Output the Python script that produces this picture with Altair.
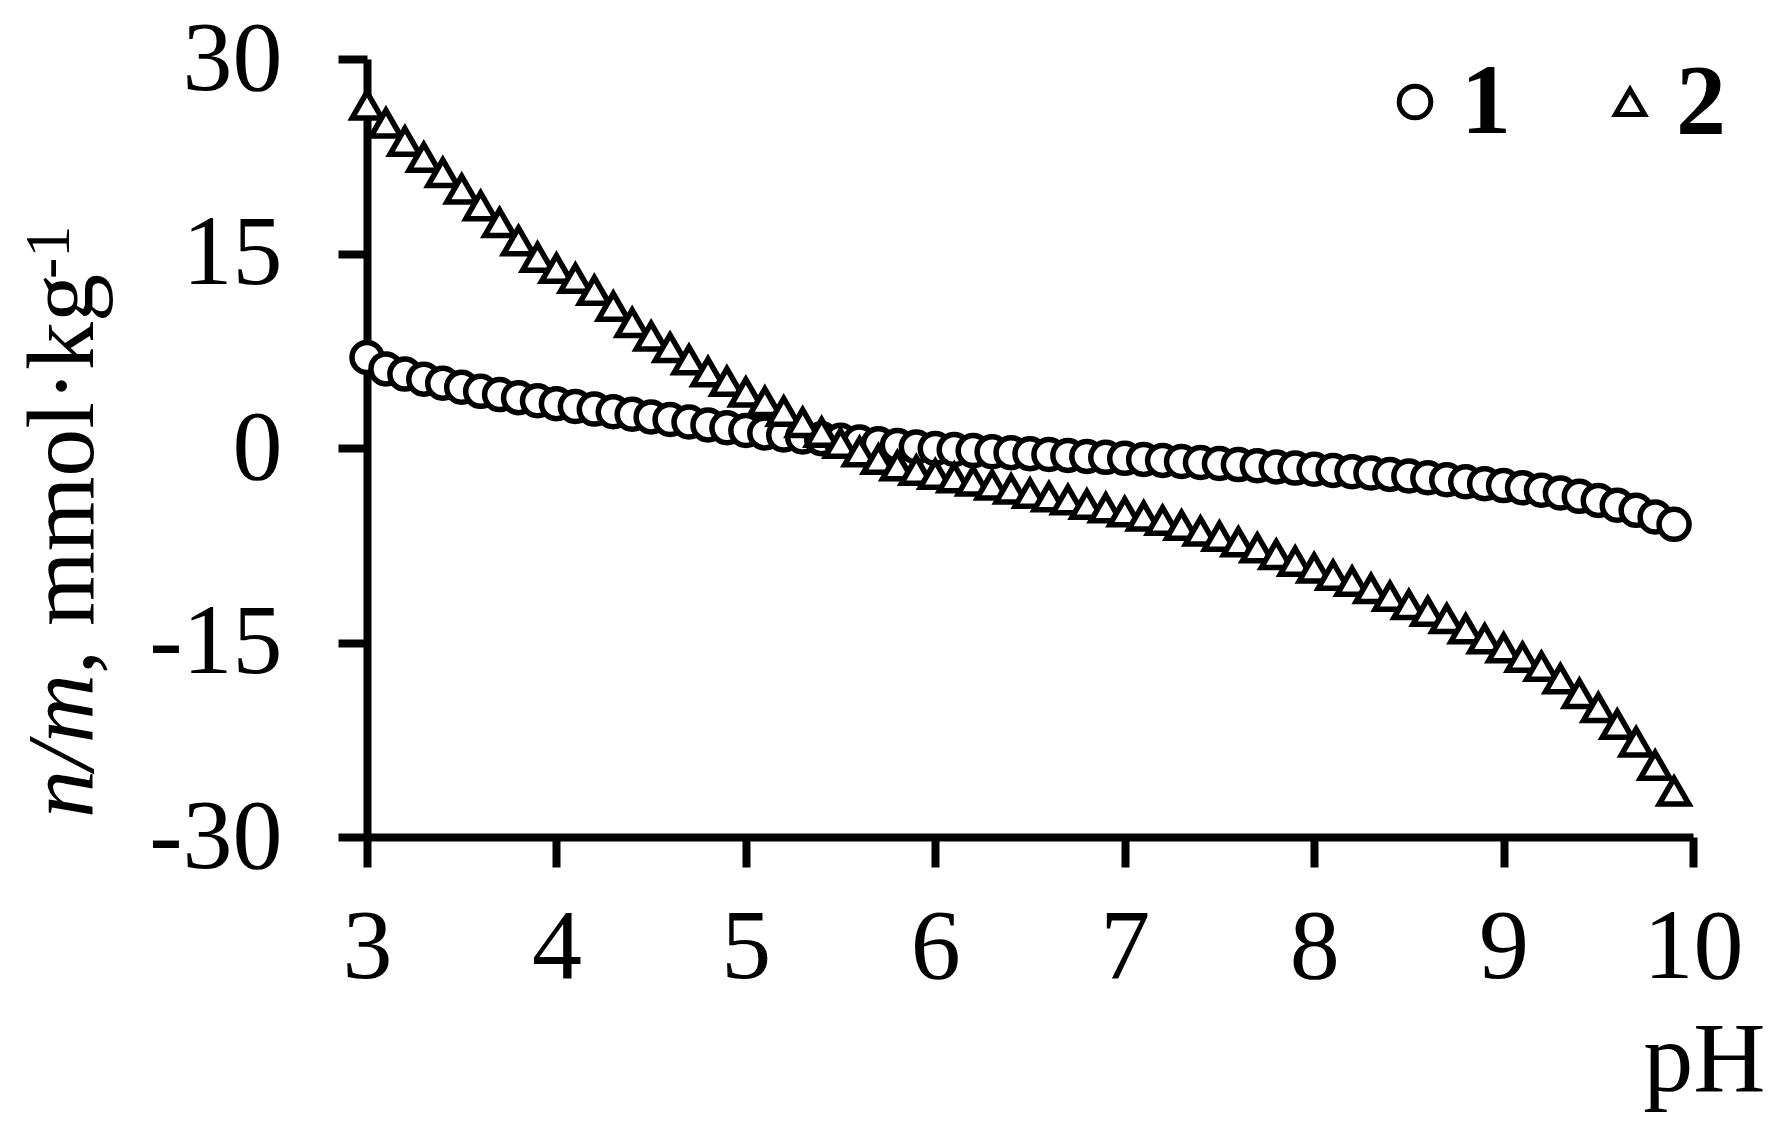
import altair as alt
import pandas as pd

# ---- data ----
PH = [3.0, 3.1, 3.2, 3.3, 3.4, 3.5, 3.6, 3.7, 3.8, 3.9,
      4.0, 4.1, 4.2, 4.3, 4.4, 4.5, 4.6, 4.7, 4.8, 4.9,
      5.0, 5.1, 5.2, 5.3, 5.4, 5.5, 5.6, 5.7, 5.8, 5.9,
      6.0, 6.1, 6.2, 6.3, 6.4, 6.5, 6.6, 6.7, 6.8, 6.9,
      7.0, 7.1, 7.2, 7.3, 7.4, 7.5, 7.6, 7.7, 7.8, 7.9,
      8.0, 8.1, 8.2, 8.3, 8.4, 8.5, 8.6, 8.7, 8.8, 8.9,
      9.0, 9.1, 9.2, 9.3, 9.4, 9.5, 9.6, 9.7, 9.8, 9.9]

SERIES_1 = [6.98, 6.10, 5.70, 5.31, 5.00, 4.68, 4.37, 4.12, 3.88, 3.64,
            3.42, 3.20, 3.00, 2.79, 2.60, 2.40, 2.20, 2.00, 1.78, 1.56,
            1.35, 1.16, 1.00, 0.85, 0.72, 0.59, 0.46, 0.33, 0.20, 0.08,
            -0.03, -0.12, -0.20, -0.29, -0.36, -0.44, -0.50, -0.57, -0.65, -0.72,
            -0.80, -0.88, -0.96, -1.04, -1.12, -1.20, -1.28, -1.37, -1.46, -1.55,
            -1.64, -1.73, -1.83, -1.93, -2.04, -2.16, -2.30, -2.45, -2.60, -2.75,
            -2.90, -3.07, -3.26, -3.47, -3.73, -4.04, -4.42, -4.81, -5.32, -5.89]

SERIES_2 = [26.45, 25.05, 23.65, 22.42, 21.23, 19.97, 18.68, 17.37, 15.98, 14.70,
            13.85, 13.08, 12.15, 10.92, 9.66, 8.62, 7.73, 6.80, 5.87, 5.13,
            4.30, 3.57, 2.83, 1.96, 1.20, 0.36, -0.30, -0.88, -1.39, -1.73,
            -2.03, -2.30, -2.55, -2.86, -3.17, -3.50, -3.78, -4.00, -4.35, -4.62,
            -4.92, -5.26, -5.59, -5.96, -6.42, -6.81, -7.25, -7.71, -8.22, -8.74,
            -9.26, -9.82, -10.29, -10.85, -11.45, -12.09, -12.61, -13.17, -13.95, -14.72,
            -15.42, -16.14, -16.85, -17.80, -18.95, -20.03, -21.32, -22.68, -24.48, -26.47]

SERIES_NAMES = ["1", "2"]
SHAPES = ["circle", "triangle-up"]
X_TICKS = [3, 4, 5, 6, 7, 8, 9, 10]
Y_TICKS = [-30, -15, 0, 15, 30]
X_TITLE = "pH"
Y_TITLE_PARTS = ["n/m", ", mmol\u00b7kg", "-1"]

FONT = "Liberation Serif"

df1 = pd.DataFrame({"pH": PH, "v": SERIES_1, "s": SERIES_NAMES[0]})
df2 = pd.DataFrame({"pH": PH, "v": SERIES_2, "s": SERIES_NAMES[1]})

x_enc = alt.X("pH:Q", scale=alt.Scale(domain=[3, 10], nice=False, zero=False),
              axis=alt.Axis(values=X_TICKS, title=X_TITLE, grid=False,
                            domainColor="black", domainWidth=8,
                            tickColor="black", tickWidth=8, tickSize=30,
                            labelFont=FONT, labelFontSize=100, labelColor="black",
                            labelPadding=31, labelFlush=False, labelOverlap=False,
                            titleFont=FONT, titleFontSize=100, titleFontWeight="normal",
                            titleColor="black", titleX=1398, titleY=253,
                            titleAlign="right", titleBaseline="alphabetic"))
y_enc = alt.Y("v:Q", scale=alt.Scale(domain=[-30, 30], nice=False),
              axis=alt.Axis(values=Y_TICKS, title=None, grid=False,
                            domainColor="black", domainWidth=8,
                            tickColor="black", tickWidth=8, tickSize=29,
                            labelFont=FONT, labelFontSize=100, labelColor="black",
                            labelPadding=56, labelFlush=False, labelOverlap=False,
                            labelExpr="datum.value < 0 ? '-' + format(-datum.value, 'd') : format(datum.value, 'd')"))
shape_enc = alt.Shape("s:N", scale=alt.Scale(domain=SERIES_NAMES, range=SHAPES), legend=None)

circles = alt.Chart(df1).mark_point(
    fill="white", stroke="black", strokeWidth=5.5, opacity=1, fillOpacity=1, size=900
).encode(x=x_enc, y=y_enc, shape=shape_enc)

triangles = alt.Chart(df2).mark_point(
    fill="white", stroke="black", strokeWidth=5.5, opacity=1, fillOpacity=1, size=880
).encode(x=x_enc, y=y_enc, shape=shape_enc)


def title_part(text, x, y, size, style="normal"):
    d = pd.DataFrame({"t": [text]})
    return alt.Chart(d).mark_text(
        angle=270, align="left", baseline="alphabetic", font=FONT,
        fontSize=size, fontStyle=style, color="black"
    ).encode(text="t:N", x=alt.value(x), y=alt.value(y))


t1 = title_part(Y_TITLE_PARTS[0], -274, 759, 96, "italic")
t2 = title_part(Y_TITLE_PARTS[1], -274, 615, 96)
t3 = title_part(Y_TITLE_PARTS[2], -298, 220, 64)


# ---- legend (one symbol + bold label per series) ----
def legend_symbol(name, shape, x, y, size):
    d = pd.DataFrame({"s": [name]})
    return alt.Chart(d).mark_point(
        shape=shape, fill="white", stroke="black", strokeWidth=5,
        opacity=1, fillOpacity=1, size=size
    ).encode(x=alt.value(x), y=alt.value(y))


def legend_label(name, x, y):
    d = pd.DataFrame({"s": [name]})
    return alt.Chart(d).mark_text(
        align="left", baseline="alphabetic", font=FONT, fontSize=100,
        fontWeight="bold", color="black"
    ).encode(text="s:N", x=alt.value(x), y=alt.value(y))


leg = [
    legend_symbol(SERIES_NAMES[0], SHAPES[0], 1048, 43, 1000),
    legend_label(SERIES_NAMES[0], 1094, 74),
    legend_symbol(SERIES_NAMES[1], SHAPES[1], 1263, 43, 850),
    legend_label(SERIES_NAMES[1], 1309, 74),
]

chart = alt.layer(circles, triangles, t1, t2, t3, *leg).properties(
    width=1326, height=778,
    autosize=alt.AutoSizeParams(type="none"),
    padding={"left": 359, "top": 51, "right": 82, "bottom": 280},
).configure(font=FONT, background="white").configure_view(stroke=None)

chart.save("out.html", embed_options={"renderer": "svg", "actions": False})
